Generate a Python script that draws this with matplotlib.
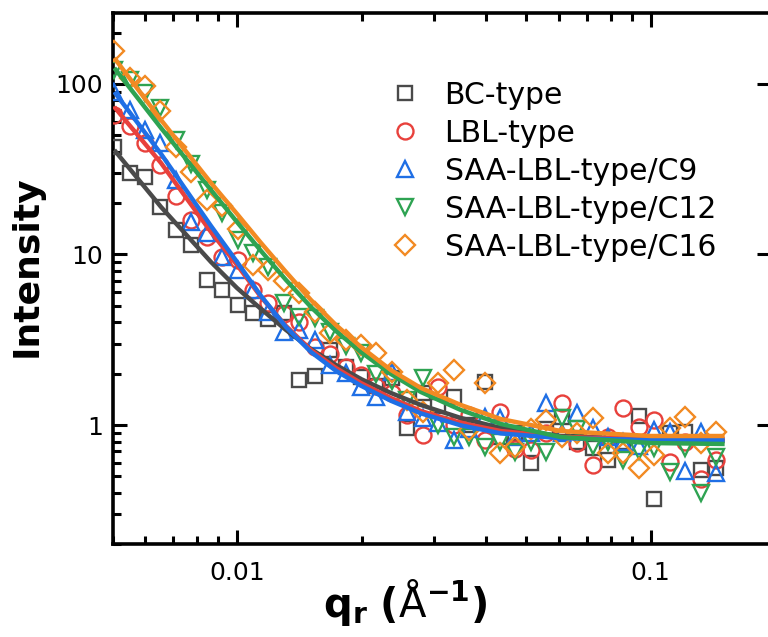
import matplotlib
matplotlib.use("Agg")
import matplotlib.pyplot as plt
from matplotlib.ticker import FuncFormatter, LogLocator, NullFormatter

plt.rcParams['font.family'] = ['DejaVu Sans']
plt.rcParams['mathtext.fontset'] = 'dejavusans'

# ---------------- data ----------------
q = [0.00505, 0.00550, 0.00599, 0.00653, 0.00712, 0.00775, 0.00845, 0.00921,
     0.01003, 0.01093, 0.01191, 0.01298, 0.01415, 0.01541, 0.01680, 0.01830,
     0.01995, 0.02173, 0.02368, 0.02581, 0.02812, 0.03065, 0.03340, 0.03639,
     0.03966, 0.04321, 0.04709, 0.05131, 0.05592, 0.06093, 0.06640, 0.07235,
     0.07884, 0.08592, 0.09362, 0.1020, 0.1112, 0.1212, 0.1320, 0.1439]

bc = [42.7, 30.1, 28.5, 19.0, 13.9, 11.4, 7.08, 6.19, 5.06, 4.54,
      4.2, 4.54, 1.84, 1.94, 2.75, 2.2, 1.9, 1.7, 1.89, 0.96,
      1.54, 1.3, 1.46, 1.0, 1.79, 0.85, 0.9, 0.60, 0.95, 1.11,
      0.8, 0.73, 0.62, 0.8, 1.13, 0.37, 0.9, 0.91, 0.545, 0.56]

lbl = [66, 57, 45, 33.5, 22, 16, 12.7, 9.7, 9.3, 6.2,
       5.2, 4.5, 4.0, 2.87, 2.6, 2.19, 1.96, 1.7, 1.55, 1.14,
       0.87, 1.67, 1.0, 1.14, 0.82, 1.19, 0.72, 0.71, 0.9, 1.35,
       0.78, 0.58, 0.85, 1.26, 0.97, 1.07, 0.61, 0.8, 0.48, 0.62]

c9 = [90, 70, 54, 45, 27.4, 15.5, 13.4, 9.67, 8.1, 6.2,
      4.6, 3.5, 3.6, 3.15, 2.25, 2.02, 1.67, 1.46, 2.04, 1.2,
      1.1, 1.03, 0.82, 0.95, 1.11, 1.10, 0.85, 0.9, 1.35, 0.9,
      1.18, 0.96, 0.85, 0.8, 0.75, 0.93, 0.91, 0.54, 0.91, 0.52]

c12 = [120, 105, 88, 72, 47, 34, 23.9, 17.5, 12.2, 10.2,
       8.45, 5.2, 4.3, 4.24, 3.51, 2.9, 2.64, 2.0, 1.8, 1.4,
       1.89, 1.0, 0.85, 0.85, 0.74, 0.79, 0.69, 0.8, 0.69, 1.1,
       0.95, 0.75, 0.8, 0.62, 0.7, 0.73, 0.53, 0.73, 0.40, 0.65]

c16 = [156, 108, 97, 69.5, 42.7, 30.5, 20.9, 19.2, 14.1, 8.68,
       8.1, 7.0, 5.94, 4.6, 3.46, 3.15, 2.94, 2.64, 2.05, 1.4,
       1.2, 1.76, 2.1, 0.93, 1.76, 0.685, 0.74, 0.95, 1.07, 0.85,
       0.9, 1.1, 0.685, 0.685, 0.56, 0.67, 0.96, 1.11, 0.78, 0.91]

# fitted curves
q_fit = [0.00505, 0.00655, 0.00865, 0.0100, 0.01143, 0.01313, 0.01509, 0.01734,
         0.01993, 0.02355, 0.02783, 0.03477, 0.04342, 0.06062, 0.1000, 0.1509]
bc_fit = [41.0, 19.0, 9.04, 6.36, 4.79, 3.61, 2.79, 2.25,
          1.861, 1.541, 1.310, 1.099, 0.960, 0.862, 0.817, 0.806]
lbl_fit = [73.3, 34.4, 13.55, 8.68, 5.63, 3.81, 2.75, 2.16,
           1.763, 1.440, 1.208, 1.027, 0.922, 0.850, 0.828, 0.828]
c9_fit = [89.8, 38.9, 14.7, 9.04, 5.71, 3.76, 2.68, 2.08,
          1.70, 1.387, 1.170, 0.995, 0.893, 0.837, 0.817, 0.817]
c12_fit = [124.1, 55.2, 23.9, 15.5, 10.48, 7.09, 4.92, 3.56,
           2.68, 1.991, 1.561, 1.224, 1.014, 0.850, 0.784, 0.774]
c16_fit = [142.1, 61.5, 26.3, 17.3, 11.68, 7.90, 5.41, 3.86,
           2.87, 2.10, 1.648, 1.310, 1.084, 0.922, 0.862, 0.862]

labels = ["BC-type", "LBL-type", "SAA-LBL-type/C9", "SAA-LBL-type/C12", "SAA-LBL-type/C16"]
colors = ["#4a4a4a", "#e8413c", "#1f6fe5", "#2ea352", "#f28a23"]
markers = ["s", "o", "^", "v", "D"]
msizes = [10.5, 11.5, 12, 12, 10.5]

series = [bc, lbl, c9, c12, c16]
fits = [bc_fit, lbl_fit, c9_fit, c12_fit, c16_fit]

# ---------------- figure ----------------
W, H = 768, 637
fig = plt.figure(figsize=(W / 100, H / 100), dpi=100)
ax_left, ax_right = 112.5, 770.7
ax_top, ax_bottom = 13.2, 544.2
ax = fig.add_axes([ax_left / W, 1 - ax_bottom / H,
                   (ax_right - ax_left) / W, (ax_bottom - ax_top) / H])
ax.set_xscale("log")
ax.set_yscale("log")
ax.set_xlim(0.005, 0.195)
ax.set_ylim(0.2, 260)

handles = []
for ys, c, m, ms, lab in zip(series, colors, markers, msizes, labels):
    h, = ax.plot(q, ys, linestyle="none", marker=m, markersize=ms,
                 markerfacecolor="none", markeredgecolor=c, markeredgewidth=1.7,
                 label=lab, zorder=3)
    handles.append(h)
for fy, c in zip(fits, colors):
    ax.plot(q_fit, fy, color=c, linewidth=3.2, zorder=4,
            solid_capstyle="butt", solid_joinstyle="round")

for sp in ax.spines.values():
    sp.set_linewidth(2.6)

ax.tick_params(which="both", direction="in", top=True, right=True, width=2.2,
               labelsize=18, pad=7)
ax.tick_params(which="major", length=10)
ax.tick_params(which="minor", length=5.5)
ax.tick_params(axis="y", which="minor", right=False)
ax.tick_params(axis="x", which="major", pad=12)
ax.xaxis.set_major_locator(LogLocator(base=10, numticks=10))
ax.yaxis.set_major_locator(LogLocator(base=10, numticks=10))
ax.xaxis.set_minor_locator(LogLocator(base=10, subs=range(2, 10), numticks=20))
ax.yaxis.set_minor_locator(LogLocator(base=10, subs=range(2, 10), numticks=20))
fmt = FuncFormatter(lambda v, _: f"{v:g}")
ax.xaxis.set_major_formatter(fmt)
ax.yaxis.set_major_formatter(fmt)
ax.xaxis.set_minor_formatter(NullFormatter())
ax.yaxis.set_minor_formatter(NullFormatter())

fig.text(27 / W, 1 - 266 / H, "Intensity", rotation=90, fontsize=26,
         fontweight="bold", ha="center", va="center")
fig.text(405 / W, 1 - 603 / H,
         r"$\mathbf{q_r}$ $\mathbf{(}$Å$^{\mathbf{-1}}$$\mathbf{)}$",
         fontsize=29, fontweight="normal", ha="center", va="center")

ax.legend(handles=handles, loc="upper left",
          bbox_to_anchor=(363 / W, 1 - 54 / H), bbox_transform=fig.transFigure,
          frameon=False, fontsize=21.5, handlelength=1.0, handletextpad=0.83,
          labelspacing=0.30, borderpad=0.4)

fig.savefig("out.png", dpi=100)
